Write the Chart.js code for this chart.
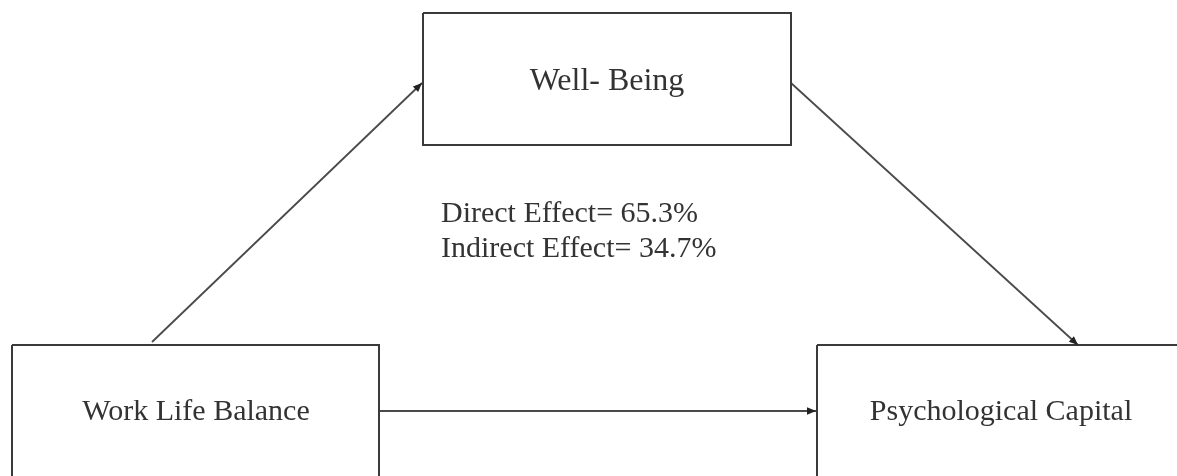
<!DOCTYPE html>
<html>
<head>
<meta charset="utf-8">
<script src="https://cdn.jsdelivr.net/npm/chart.js@4"></script>
<style>
  html, body { margin: 0; padding: 0; background: #ffffff; }
  #wrap { width: 1177px; height: 476px; position: relative; }
</style>
</head>
<body>
<div id="wrap"><canvas id="c"></canvas></div>
<script>
// ---- data ----
const nodeNames = ['Well- Being', 'Work Life Balance', 'Psychological Capital'];
const effectNames = ['Direct Effect', 'Indirect Effect'];
const effectValues = [65.3, 34.7];
// paths: [fromNode, toNode]
const paths = [[1, 0], [0, 2], [1, 2]];

// ---- layout (diagram coordinates) ----
const nodeBoxes = [[423, 13, 791, 145], [12, 345, 379, 490], [817, 345, 1190, 490]];
const nodeLabelPos = [[607, 82], [196, 412], [1001, 412]];
const nodeFontSizes = [32, 30, 30];
const pathEnds = [[[152, 342], [422, 83]], [[791, 83], [1078, 345]], [[379, 411], [816, 411]]];
const effectLabelPos = [[441, 214], [441, 249]];

const ink = '#3a3a3a';

const boxDatasets = nodeBoxes.map((b, i) => ({
  label: nodeNames[i],
  data: [{x:b[0],y:b[1]},{x:b[2],y:b[1]},{x:b[2],y:b[3]},{x:b[0],y:b[3]},{x:b[0],y:b[1]}],
  showLine: true, borderColor: ink, borderWidth: 2, pointRadius: 0, fill: false, tension: 0
}));
const pathDatasets = paths.map((p, i) => ({
  label: nodeNames[p[0]] + ' -> ' + nodeNames[p[1]],
  data: pathEnds[i].map(e => ({x:e[0], y:e[1]})),
  showLine: true, borderColor: '#4a4a4a', borderWidth: 1.8, pointRadius: 0, fill: false
}));

const diagramPlugin = {
  id: 'diagram',
  afterDatasetsDraw(chart) {
    const ctx = chart.ctx, xs = chart.scales.x, ys = chart.scales.y;
    ctx.save();
    // arrowheads
    ctx.fillStyle = '#222';
    pathEnds.forEach(pe => {
      const x1 = xs.getPixelForValue(pe[0][0]), y1 = ys.getPixelForValue(pe[0][1]);
      const x2 = xs.getPixelForValue(pe[1][0]), y2 = ys.getPixelForValue(pe[1][1]);
      const a = Math.atan2(y2 - y1, x2 - x1), L = 9, W = 3.8;
      ctx.beginPath();
      ctx.moveTo(x2, y2);
      ctx.lineTo(x2 - L*Math.cos(a) + W*Math.sin(a), y2 - L*Math.sin(a) - W*Math.cos(a));
      ctx.lineTo(x2 - L*Math.cos(a) - W*Math.sin(a), y2 - L*Math.sin(a) + W*Math.cos(a));
      ctx.closePath();
      ctx.fill();
    });
    // node labels
    ctx.fillStyle = '#333';
    ctx.textBaseline = 'middle';
    ctx.textAlign = 'center';
    nodeNames.forEach((n, i) => {
      ctx.font = nodeFontSizes[i] + 'px "Liberation Serif", "DejaVu Serif", serif';
      ctx.fillText(n, xs.getPixelForValue(nodeLabelPos[i][0]), ys.getPixelForValue(nodeLabelPos[i][1]));
    });
    // effect labels
    ctx.textAlign = 'left';
    ctx.font = '30px "Liberation Serif", "DejaVu Serif", serif';
    effectNames.forEach((n, i) => {
      ctx.fillText(n + '= ' + effectValues[i].toFixed(1) + '%',
        xs.getPixelForValue(effectLabelPos[i][0]), ys.getPixelForValue(effectLabelPos[i][1]));
    });
    ctx.restore();
  }
};

new Chart(document.getElementById('c'), {
  type: 'scatter',
  data: { datasets: [...boxDatasets, ...pathDatasets] },
  options: {
    responsive: true, maintainAspectRatio: false, animation: false,
    layout: { padding: 0 },
    plugins: { legend: { display: false }, tooltip: { enabled: false } },
    scales: {
      x: { type: 'linear', min: 0, max: 1177, display: false },
      y: { type: 'linear', min: 0, max: 476, reverse: true, display: false }
    }
  },
  plugins: [diagramPlugin]
});
</script>
</body>
</html>
